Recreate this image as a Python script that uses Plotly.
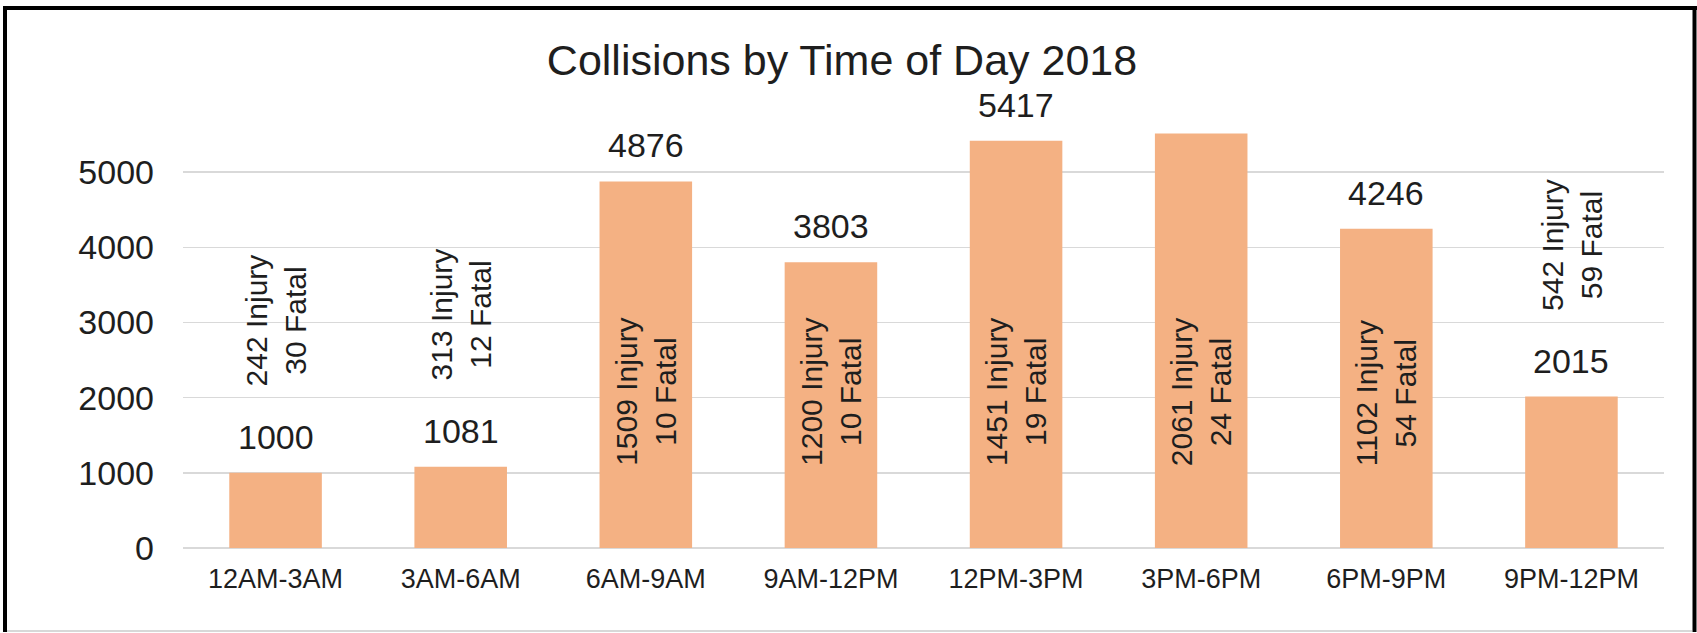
import plotly.graph_objects as go

# ---- data ----
categories = ["12AM-3AM", "3AM-6AM", "6AM-9AM", "9AM-12PM",
              "12PM-3PM", "3PM-6PM", "6PM-9PM", "9PM-12PM"]
collisions = [1000, 1081, 4876, 3803, 5417, 5515, 4246, 2015]
value_labels = ["1000", "1081", "4876", "3803", "5417", "", "4246", "2015"]
injuries = [242, 313, 1509, 1200, 1451, 2061, 1102, 542]
fatalities = [30, 12, 10, 10, 19, 24, 54, 59]
y_tick_values = [0, 1000, 2000, 3000, 4000, 5000]
y_tick_labels = ["0", "1000", "2000", "3000", "4000", "5000"]
title_text = "Collisions by Time of Day 2018"

# ---- layout constants ----
W, H = 1697, 633
ML, MR, MT, MB = 183, 33, 97, 85
FONT = "Liberation Sans, Arial, sans-serif"
TXT = "#1e1e1e"
BAR = "#F4B183"
GRID = "#D9D9D9"

def px_x(p):
    return (p - ML) / (W - ML - MR)

def px_y(p):
    return (H - MB - p) / (H - MT - MB)

fig = go.Figure()
fig.add_trace(go.Bar(
    x=categories, y=collisions, marker=dict(color=BAR, line=dict(width=0)),
    hoverinfo="x+y", showlegend=False,
))

annotations = []
for cat, val, lab in zip(categories, collisions, value_labels):
    if lab:
        annotations.append(dict(
            x=cat, y=val, xref="x", yref="y", text=lab, showarrow=False,
            yanchor="middle", xanchor="center", yshift=36, borderpad=0,
            font=dict(family=FONT, size=34, color=TXT)))

for cat, val, inj, fat in zip(categories, collisions, injuries, fatalities):
    inside = val >= 3000
    base = 0 if inside else val
    annotations.append(dict(
        x=cat, y=base, xref="x", yref="y",
        text=f"{inj} Injury<br>{fat} Fatal", showarrow=False,
        textangle=-90, align="center", xanchor="center", yanchor="bottom",
        yshift=80 if inside else 84,
        font=dict(family=FONT, size=30, color=TXT)))

shapes = [
    dict(type="line", xref="paper", yref="paper", x0=px_x(5), x1=px_x(5),
         y0=px_y(6), y1=px_y(632), line=dict(color="black", width=4)),
    dict(type="line", xref="paper", yref="paper", x0=px_x(3), x1=px_x(1697),
         y0=px_y(8), y1=px_y(8), line=dict(color="black", width=4)),
    dict(type="line", xref="paper", yref="paper", x0=px_x(1694.5), x1=px_x(1694.5),
         y0=px_y(6), y1=px_y(632), line=dict(color="black", width=4)),
    dict(type="line", xref="paper", yref="paper", x0=px_x(7), x1=px_x(1692),
         y0=px_y(631), y1=px_y(631), line=dict(color="#d8d8d8", width=2)),
]

fig.update_layout(
    width=W, height=H,
    margin=dict(l=ML, r=MR, t=MT, b=MB, pad=0),
    paper_bgcolor="white", plot_bgcolor="white",
    bargap=0.5,
    title=dict(text=title_text, x=842 / W, xref="container",
               xanchor="center", y=(H - 60) / H, yref="container", yanchor="middle",
               font=dict(family=FONT, size=43, color=TXT)),
    xaxis=dict(showgrid=False, showline=False, zeroline=False, ticks="",
               tickfont=dict(family=FONT, size=27, color=TXT),
               ticklabelstandoff=12, fixedrange=True),
    yaxis=dict(range=[0, 6000], tickvals=y_tick_values, ticktext=y_tick_labels,
               showgrid=True, gridcolor=GRID, gridwidth=1.5,
               zeroline=True, zerolinecolor=GRID, zerolinewidth=1.5,
               showline=False, ticks="",
               tickfont=dict(family=FONT, size=34, color=TXT),
               ticklabelstandoff=28, fixedrange=True),
    annotations=annotations,
    shapes=shapes,
)

fig.write_html(
    "out.html",
    config={"displayModeBar": False, "staticPlot": True},
    post_script="document.body.style.margin='0';document.body.style.overflow='hidden';",
)
